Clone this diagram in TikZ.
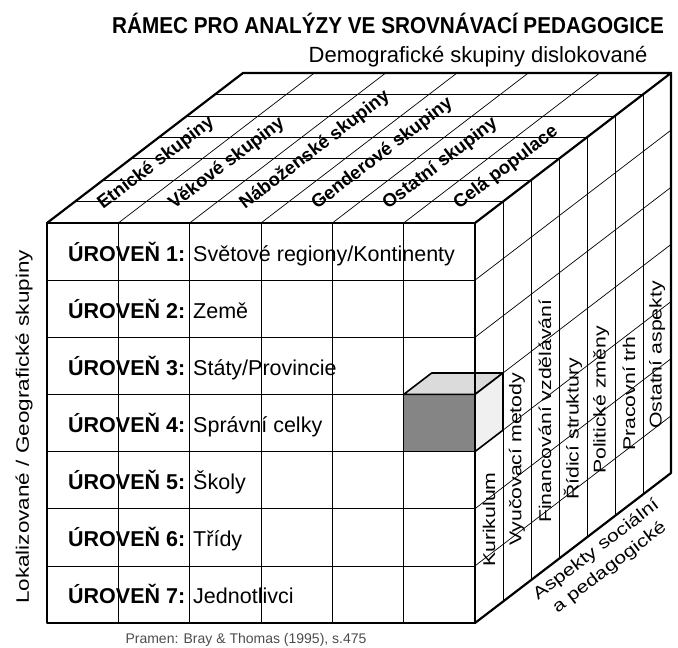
\documentclass[tikz,border=0pt]{standalone}
\usepackage{fontspec}
\setmainfont{Liberation Sans}
\newfontfamily\sidefont[FakeStretch=1.25]{Liberation Sans}
\newfontfamily\titlefont[FakeStretch=0.9]{Liberation Sans}
\usetikzlibrary{calc}

\begin{document}
\begin{tikzpicture}[x=1pt,y=-1pt,
    thinline/.style={line width=0.7pt},
    edgeline/.style={line width=2.2pt,line join=round,line cap=round},
    lvl/.style={anchor=base west,inner sep=0pt,font=\fontsize{21.5}{24}\selectfont},
    grp/.style={anchor=west,inner sep=0pt,rotate=37.4,font=\fontsize{18.5}{20}\selectfont\bfseries},
    asp/.style={anchor=west,inner sep=0pt,rotate=90,font=\fontsize{17}{20}\sidefont}]
\useasboundingbox (0,0) rectangle (678,648);

% cube corners
\coordinate (FTL) at (47,223);
\coordinate (FTR) at (475,223);
\coordinate (FBR) at (475,623);
\coordinate (FBL) at (47,623);
\coordinate (BTL) at (243,73);
\coordinate (BTR) at (671,73);
\coordinate (BBR) at (671,473);

% grid: front, top and right face
\foreach \i in {1,...,5} {
    \draw[thinline] ($(FTL)!\i/6!(FTR)$) -- ($(FBL)!\i/6!(FBR)$);
    \draw[thinline] ($(FTL)!\i/6!(FTR)$) -- ($(BTL)!\i/6!(BTR)$);
}
\foreach \j in {1,...,6} {
    \draw[thinline] ($(FTL)!\j/7!(FBL)$) -- ($(FTR)!\j/7!(FBR)$);
    \draw[thinline] ($(FTL)!\j/7!(BTL)$) -- ($(FTR)!\j/7!(BTR)$);
    \draw[thinline] ($(FTR)!\j/7!(BTR)$) -- ($(FBR)!\j/7!(BBR)$);
    \draw[thinline] ($(FTR)!\j/7!(FBR)$) -- ($(BTR)!\j/7!(BBR)$);
}

% highlighted cell
\coordinate (c1) at ($(FTR)!3/7!(FBR)$);
\coordinate (c2) at ($(FTR)!4/7!(FBR)$);
\coordinate (c0) at ($(c1)+(-71.33,0)$);
\coordinate (c3) at ($(c2)+(-71.33,0)$);
\coordinate (d) at (28,-21.43);
\filldraw[fill=black!48,draw=black,line width=1.6pt] (c0) -- (c1) -- (c2) -- (c3) -- cycle;
\filldraw[fill=black!14,draw=black,line width=1.6pt,line join=round] (c0) -- (c1) -- ($(c1)+(d)$) -- ($(c0)+(d)$) -- cycle;
\filldraw[fill=black!6,draw=black,line width=1.6pt,line join=round] (c1) -- ($(c1)+(d)$) -- ($(c2)+(d)$) -- (c2) -- cycle;

% outline
\draw[edgeline] (FTL) rectangle (FBR);
\draw[edgeline] (FTL) -- (BTL) -- (BTR) -- (FTR);
\draw[edgeline] (BTR) -- (BBR) -- (FBR);

% titles
\node (title) [anchor=base,inner sep=0pt,font=\fontsize{23}{26}\titlefont\bfseries] at (388,33) {RÁMEC PRO ANALÝZY VE SROVNÁVACÍ PEDAGOGICE};
\node (demo) [anchor=base,inner sep=0pt,font=\fontsize{22}{26}\selectfont] at (478,62) {Demografické skupiny dislokované};
\node (loc) [rotate=90,inner sep=0pt,font=\fontsize{18}{20}\sidefont] at (24,427) {Lokalizované / Geografické skupiny};
\node (aspects) [rotate=37.4,align=center,inner sep=0pt,font=\fontsize{17}{22}\sidefont] at (603,559) {Aspekty sociální\\a pedagogické};
\node (source) [inner sep=0pt,text=black!70,font=\fontsize{14}{16}\selectfont] at (246,640) {Pramen: Bray \& Thomas (1995), s.475};

% levels
\node (lvl1) [lvl] at (68,261) {\textbf{ÚROVEŇ 1:} Světové regiony/Kontinenty};
\node (lvl2) [lvl] at (68,318) {\textbf{ÚROVEŇ 2:} Země};
\node (lvl3) [lvl] at (68,375) {\textbf{ÚROVEŇ 3:} Státy/Provincie};
\node (lvl4) [lvl] at (68,432) {\textbf{ÚROVEŇ 4:} Správní celky};
\node (lvl5) [lvl] at (68,489) {\textbf{ÚROVEŇ 5:} Školy};
\node (lvl6) [lvl] at (68,546) {\textbf{ÚROVEŇ 6:} Třídy};
\node (lvl7) [lvl] at (68,603) {\textbf{ÚROVEŇ 7:} Jednotlivci};

% groups on top
\node (grp1) [grp] at (100,206) {Etnické skupiny};
\node (grp2) [grp] at (171,206) {Věkové skupiny};
\node (grp3) [grp] at (242,206) {Náboženské skupiny};
\node (grp4) [grp] at (314,206) {Genderové skupiny};
\node (grp5) [grp] at (385,206) {Ostatní skupiny};
\node (grp6) [grp] at (456,206) {Celá populace};

% aspects on the right
\node (asp1) [asp] at (489,567) {Kurikulum};
\node (asp2) [asp] at (517,546) {Vyučovací metody};
\node (asp3) [asp] at (545,523) {Financování vzdělávání};
\node (asp4) [asp] at (573,500) {Řídicí struktury};
\node (asp5) [asp] at (601,474) {Politické změny};
\node (asp6) [asp] at (629,451) {Pracovní trh};
\node (asp7) [asp] at (657,429) {Ostatní aspekty};
\end{tikzpicture}
\end{document}
